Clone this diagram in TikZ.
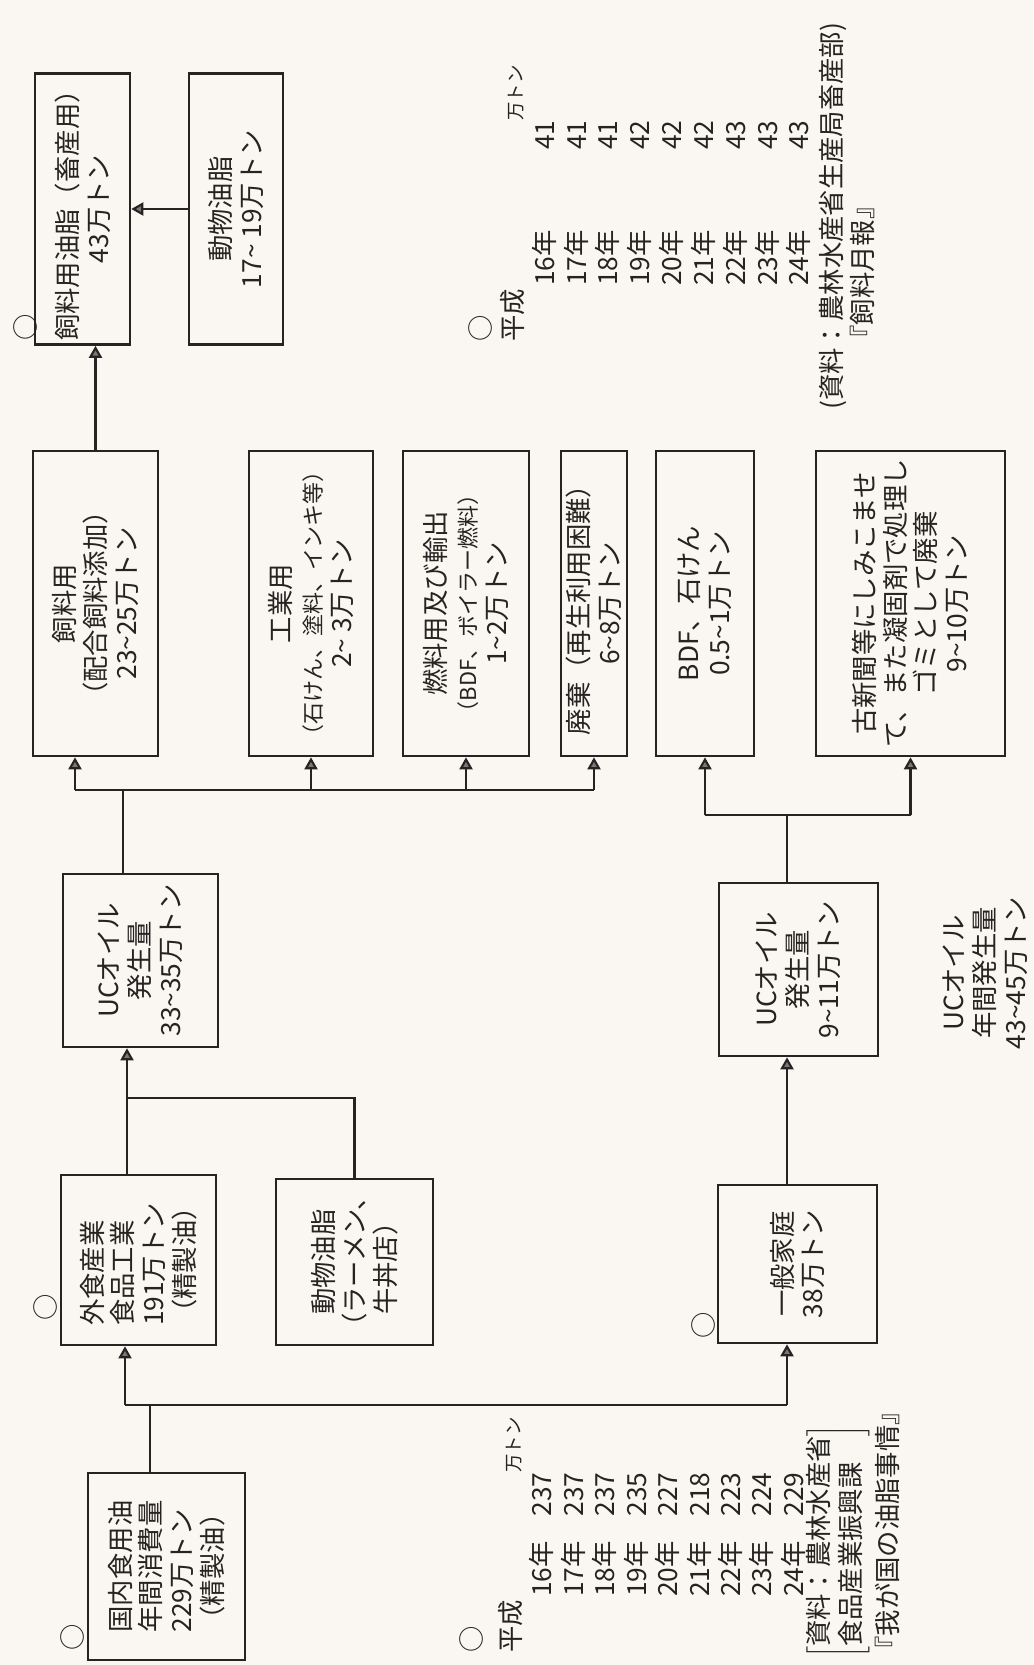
\documentclass[tikz,border=0pt]{standalone}
\usepackage{fontspec}
\setmainfont{Noto Sans CJK JP}
\usepackage{array}
\usepackage{tikz}
\usetikzlibrary{arrows.meta, positioning, calc}
\definecolor{mydark}{RGB}{38,36,34}
\definecolor{mypaper}{RGB}{250,247,242}
\definecolor{mytip}{RGB}{120,120,120}
\newcommand{\diagfont}{\fontsize{15}{17.5}\selectfont}
\newcommand{\subfont}{\fontsize{12.5}{17.5}\selectfont}
\newcommand{\unitfont}{\fontsize{10.5}{12}\selectfont}
\newcommand{\wave}{\textasciitilde}
\tikzset{
  flowbox/.style={rectangle, draw=mydark, line width=1.5pt, rotate=90,
    align=center, inner sep=0pt, font=\diagfont, text=mydark},
  note/.style={rotate=90, inner sep=0pt, font=\diagfont, text=mydark, align=center},
  circmark/.style={rotate=90, inner sep=0pt, font=\diagfont, text=mydark},
  arrow/.style={-{Triangle[length=2.4mm, width=2.6mm, fill=mytip]}, line width=1.2pt, color=mydark},
  line/.style={line width=1.2pt, color=mydark}
}

\begin{document}
\begin{tikzpicture}[x=0.2mm, y=0.2mm]
  % Paper
  \fill[mypaper] (0,0) rectangle (1033,-1665);
  \useasboundingbox (0,0) rectangle (1033,-1665);

  % Feed fat (end of the chain)
  \node[flowbox, minimum width=54.2mm, minimum height=19mm] (feedfat) at (82.5,-209) {飼料用油脂（畜産用）\\43万トン};
  \node[flowbox, minimum width=54.2mm, minimum height=18.8mm] (animalA) at (236,-209) {動物油脂\\17\wave\ 19万トン};
  \node[circmark] (okFeedfat) at (25,-327) {○};

  % Uses of UC oil from industry
  \node[flowbox, minimum width=61mm, minimum height=25mm] (feed) at (95.5,-603.5) {飼料用\\（配合飼料添加）\\23\wave 25万トン};
  \node[flowbox, minimum width=61mm, minimum height=24.8mm] (industry) at (311,-603.5) {工業用\\{\subfont（石けん、塗料、インキ等）}\\2\wave\ 3万トン};
  \node[flowbox, minimum width=61mm, minimum height=25.2mm] (fuel) at (466,-603.5) {燃料用及び輸出\\{\subfont（BDF、ボイラー燃料）}\\1\wave 2万トン};
  \node[flowbox, minimum width=61mm, minimum height=13.2mm] (waste) at (594,-603.5) {廃棄（再生利用困難）\\6\wave 8万トン};

  % Uses of UC oil from homes
  \node[flowbox, minimum width=61mm, minimum height=19.6mm] (bdf) at (705,-603.5) {BDF、石けん\\0.5\wave 1万トン};
  \node[flowbox, minimum width=61mm, minimum height=37.8mm] (paper) at (910.5,-603.5) {古新聞等にしみこませ\\て、また凝固剤で処理し\\ゴミとして廃棄\\9\wave 10万トン};

  % UC oil amounts
  \node[flowbox, minimum width=34.6mm, minimum height=31mm] (uc1) at (140.5,-960.5) {UCオイル\\発生量\\33\wave 35万トン};
  \node[flowbox, minimum width=34.6mm, minimum height=31.8mm] (uc2) at (798.5,-969.5) {UCオイル\\発生量\\9\wave 11万トン};
  \node[note] (ucTotal) at (985,-973) {UCオイル\\年間発生量\\43\wave 45万トン};

  % Sources of UC oil
  \node[flowbox, align=left, minimum width=34mm, minimum height=31mm] (shoku) at (138.5,-1260) {外食産業\\食品工業\\191万トン\\（精製油）};
  \node[flowbox, minimum width=33.2mm, minimum height=31.4mm] (animalB) at (354.5,-1262) {動物油脂\\（ラーメン、\\牛丼店）};
  \node[flowbox, minimum width=31.6mm, minimum height=31.8mm] (home) at (797.5,-1264) {一般家庭\\38万トン};
  \node[circmark] (okShoku) at (45,-1307) {○};
  \node[circmark] (okHome) at (703,-1325) {○};

  % Domestic consumption
  \node[flowbox, align=left, minimum width=37.4mm, minimum height=31.4mm] (domestic) at (166.5,-1566.5) {国内食用油\\年間消費量\\229万トン\\（精製油）};
  \node[circmark] (okDomestic) at (72,-1637) {○};

  % Junctions
  \coordinate (busFeed) at (75,-790);
  \coordinate (busUC1) at (123,-790);
  \coordinate (busUC2) at (787,-815);
  \coordinate (joinUC1) at (127,-1098);
  \coordinate (busShoku) at (125,-1405);
  \coordinate (busDom) at (150,-1405);

  % Connectors
  \draw[arrow] (animalA.north) -- (feedfat.south);
  \draw[arrow] (feed.east) -- (feed.east |- feedfat.west);
  \draw[line] (busUC1 |- uc1.east) -- (busUC1);
  \draw[line] (busFeed) -- (waste.west |- busFeed);
  \draw[arrow] (busFeed) -- (busFeed |- feed.west);
  \draw[arrow] (industry.west |- busFeed) -- (industry.west);
  \draw[arrow] (fuel.west |- busFeed) -- (fuel.west);
  \draw[arrow] (waste.west |- busFeed) -- (waste.west);
  \draw[line] (busUC2 |- uc2.east) -- (busUC2);
  \draw[line] (bdf.west |- busUC2) -- (paper.west |- busUC2);
  \draw[arrow] (bdf.west |- busUC2) -- (bdf.west);
  \draw[arrow] (paper.west |- busUC2) -- (paper.west);
  \draw[arrow] (joinUC1 |- shoku.east) -- (joinUC1 |- uc1.west);
  \draw[line] (animalB.east) |- (joinUC1);
  \draw[arrow] (busUC2 |- home.east) -- (busUC2 |- uc2.west);
  \draw[line] (busDom |- domestic.east) -- (busDom);
  \draw[line] (busShoku) -- (busUC2 |- busShoku);
  \draw[arrow] (busShoku) -- (busShoku |- shoku.west);
  \draw[arrow] (busUC2 |- busShoku) -- (busUC2 |- home.west);

  % Yearly table, feed fat
  \node[note, anchor=north west] (tblFeed) at (468,-342) {%
    \renewcommand{\arraystretch}{1.035}%
    \begin{tabular}{@{}p{11.2mm}@{}p{25mm}@{}>{\raggedleft\arraybackslash}p{8mm}@{}l@{}}
      ○ & & & \\
      平成 & & & {\unitfont 万トン}\\
      & 16年 & 41 & \\
      & 17年 & 41 & \\
      & 18年 & 41 & \\
      & 19年 & 42 & \\
      & 20年 & 42 & \\
      & 21年 & 42 & \\
      & 22年 & 43 & \\
      & 23年 & 43 & \\
      & 24年 & 43 &
    \end{tabular}};
  \node[note, anchor=west] (srcFeed) at (833,-410) {(資料：農林水産省生産局畜産部)};
  \node[note, anchor=west] (srcFeedB) at (862,-352) {『飼料月報』};

  % Yearly table, domestic oil
  \node[note, anchor=north west] (tblOil) at (459.6,-1653) {%
    \begin{tabular}{@{}p{11.2mm}@{}p{12.8mm}@{}>{\raggedleft\arraybackslash}p{12mm}@{}l@{}}
      ○ & & & \\[1.4mm]
      平成 & & & {\unitfont 万トン}\\
      & 16年 & 237 & \\
      & 17年 & 237 & \\
      & 18年 & 237 & \\
      & 19年 & 235 & \\
      & 20年 & 227 & \\
      & 21年 & 218 & \\
      & 22年 & 223 & \\
      & 23年 & 224 & \\
      & 24年 & 229 &
    \end{tabular}};
  \node[note, anchor=west] (srcOil) at (838,-1659) {$\left[\begin{tabular}{@{}l@{}}資料：農林水産省\\食品産業振興課\end{tabular}\right]$};
  \node[note, anchor=west] (srcOilB) at (887,-1663) {『我が国の油脂事情』};
\end{tikzpicture}
\end{document}
